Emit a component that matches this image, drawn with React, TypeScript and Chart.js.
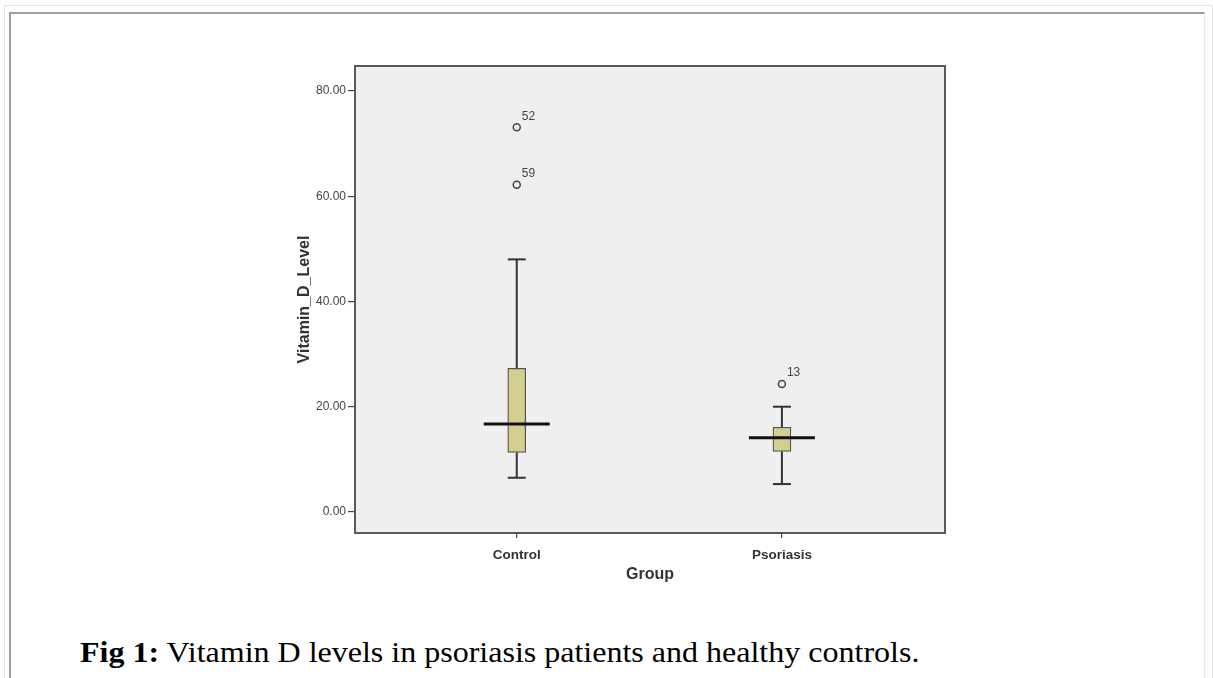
import React, { useEffect, useRef } from "react";
import { Chart, registerables } from "chart.js";

Chart.register(...registerables);

// ---- data ----
const groups = ["Control", "Psoriasis"];
const groupPositions = [1, 2];
const whiskerLow = [6.5, 5.3];
const q1 = [11.3, 11.5];
const median = [16.7, 14.1];
const q3 = [27.3, 16.1];
const whiskerHigh = [48.0, 20.0];
const outlierGroup = [1, 1, 2];
const outlierValue = [73.1, 62.2, 24.3];
const outlierCase = ["52", "59", "13"];
const yTicks = [0, 20, 40, 60, 80];

const SANS = "'Liberation Sans', Arial, sans-serif";

const areaPlugin = {
  id: "areaBg",
  beforeDraw(chart: any) {
    const { ctx, chartArea: a } = chart;
    ctx.save();
    ctx.fillStyle = "#efefef";
    ctx.fillRect(a.left, a.top, a.right - a.left, a.bottom - a.top);
    ctx.restore();
  },
  afterDraw(chart: any) {
    const { ctx, chartArea: a } = chart;
    ctx.save();
    ctx.strokeStyle = "#5a5a5a";
    ctx.lineWidth = 2;
    ctx.strokeRect(a.left, a.top, a.right - a.left, a.bottom - a.top);
    ctx.restore();
  },
};

const boxPlugin = {
  id: "boxParts",
  afterDatasetsDraw(chart: any) {
    const { ctx } = chart;
    const x = chart.scales.x;
    const y = chart.scales.y;
    const line = (x1: number, y1: number, x2: number, y2: number) => {
      ctx.beginPath();
      ctx.moveTo(x1, y1);
      ctx.lineTo(x2, y2);
      ctx.stroke();
    };
    ctx.save();
    groupPositions.forEach((g, i) => {
      const cx = x.getPixelForValue(g);
      const yHi = y.getPixelForValue(whiskerHigh[i]);
      const yLo = y.getPixelForValue(whiskerLow[i]);
      ctx.strokeStyle = "#333";
      ctx.lineWidth = 2;
      line(cx, y.getPixelForValue(q3[i]), cx, yHi);
      line(cx, y.getPixelForValue(q1[i]), cx, yLo);
      line(cx - 9, yHi, cx + 9, yHi);
      line(cx - 9, yLo, cx + 9, yLo);
      ctx.strokeStyle = "#111";
      ctx.lineWidth = 3;
      const ym = y.getPixelForValue(median[i]);
      line(cx - 33, ym, cx + 33, ym);
    });
    ctx.fillStyle = "#444";
    ctx.font = `12px ${SANS}`;
    ctx.textAlign = "left";
    ctx.textBaseline = "middle";
    outlierValue.forEach((v, i) => {
      const px = x.getPixelForValue(outlierGroup[i]);
      const py = y.getPixelForValue(v);
      ctx.fillText(outlierCase[i], px + 5, py - 11);
    });
    ctx.restore();
  },
};

function BoxChart() {
  const ref = useRef<HTMLCanvasElement | null>(null);
  useEffect(() => {
    if (!ref.current) return;
    const chart = new Chart(ref.current, {
      type: "bar",
      data: {
        datasets: [
          {
            type: "bar",
            data: groupPositions.map((g, i) => ({ x: g, y: [q1[i], q3[i]] })) as any,
            backgroundColor: "#d5cf8f",
            borderColor: "#555",
            borderWidth: 1.3,
            borderSkipped: false,
            barThickness: 18,
          } as any,
          {
            type: "scatter",
            data: outlierValue.map((v, i) => ({ x: outlierGroup[i], y: v })),
            pointStyle: "circle",
            pointRadius: 3.5,
            borderColor: "#444",
            borderWidth: 1.5,
            backgroundColor: "rgba(0,0,0,0)",
          } as any,
        ],
      },
      options: {
        animation: false,
        responsive: false,
        events: [],
        layout: { padding: { left: 0, top: 16, right: 15, bottom: 0 } },
        plugins: { legend: { display: false }, tooltip: { enabled: false } },
        scales: {
          x: {
            type: "linear",
            offset: false,
            min: 0.39,
            max: 2.615,
            afterBuildTicks: (s: any) => {
              s.ticks = groupPositions.map((v) => ({ value: v }));
            },
            afterFit: (s: any) => {
              s.height = 77;
            },
            ticks: {
              callback: (v: any) => groups[groupPositions.indexOf(v)] ?? "",
              font: { family: SANS, size: 13.5, weight: "bold" },
              color: "#333",
              padding: 9,
              autoSkip: false,
              maxRotation: 0,
            },
            grid: {
              offset: false,
              drawOnChartArea: false,
              drawTicks: true,
              tickLength: 5,
              color: "#444",
              lineWidth: 1.2,
            },
            border: { display: false },
            title: {
              display: true,
              text: "Group",
              font: { family: SANS, size: 16, weight: "bold" },
              color: "#333",
              padding: { top: 0, bottom: 25.5 },
            },
          },
          y: {
            type: "linear",
            min: -4,
            max: 84.75,
            afterBuildTicks: (s: any) => {
              s.ticks = yTicks.map((v) => ({ value: v }));
            },
            afterFit: (s: any) => {
              s.width = 95;
            },
            ticks: {
              callback: (v: any) => Number(v).toFixed(2),
              font: { family: SANS, size: 12 },
              color: "#444",
              padding: 2,
            },
            grid: { drawOnChartArea: false, drawTicks: true, tickLength: 7, color: "#444", lineWidth: 1.2 },
            border: { display: false },
            title: {
              display: true,
              text: "Vitamin_D_Level",
              font: { family: SANS, size: 16, weight: "bold" },
              color: "#333",
              padding: { top: 35, bottom: 0 },
            },
          },
        },
      } as any,
      plugins: [areaPlugin, boxPlugin],
    });
    return () => chart.destroy();
  }, []);
  return <canvas ref={ref} width={700} height={560} style={{ width: 700, height: 560, display: "block" }} />;
}

export default function App() {
  return (
    <div
      style={{
        position: "fixed",
        left: 0,
        top: 0,
        width: 1213,
        height: 678,
        background: "#fff",
        overflow: "hidden",
      }}
    >
      <div
        style={{
          position: "absolute",
          left: 4,
          top: 5,
          width: 1207,
          height: 700,
          borderTop: "1px solid #e4e4e4",
          borderLeft: "1px solid #e4e4e4",
          borderRight: "1px solid #e4e4e4",
        }}
      />
      <div
        style={{
          position: "absolute",
          left: 9,
          top: 12,
          width: 1193,
          height: 700,
          borderTop: "2px solid #9c9c9c",
          borderLeft: "2px solid #9c9c9c",
          borderRight: "1px solid #e8e8e8",
        }}
      />
      <div style={{ position: "absolute", left: 260, top: 50 }}>
        <BoxChart />
      </div>
      <div
        style={{
          position: "absolute",
          left: 80,
          top: 637,
          fontFamily: "'Liberation Serif', 'Times New Roman', serif",
          fontSize: 30,
          lineHeight: "30px",
          color: "#000",
          whiteSpace: "nowrap",
          transform: "scaleX(1.067)",
          transformOrigin: "0 0",
        }}
      >
        <b>Fig 1:</b> Vitamin D levels in psoriasis patients and healthy controls.
      </div>
    </div>
  );
}
